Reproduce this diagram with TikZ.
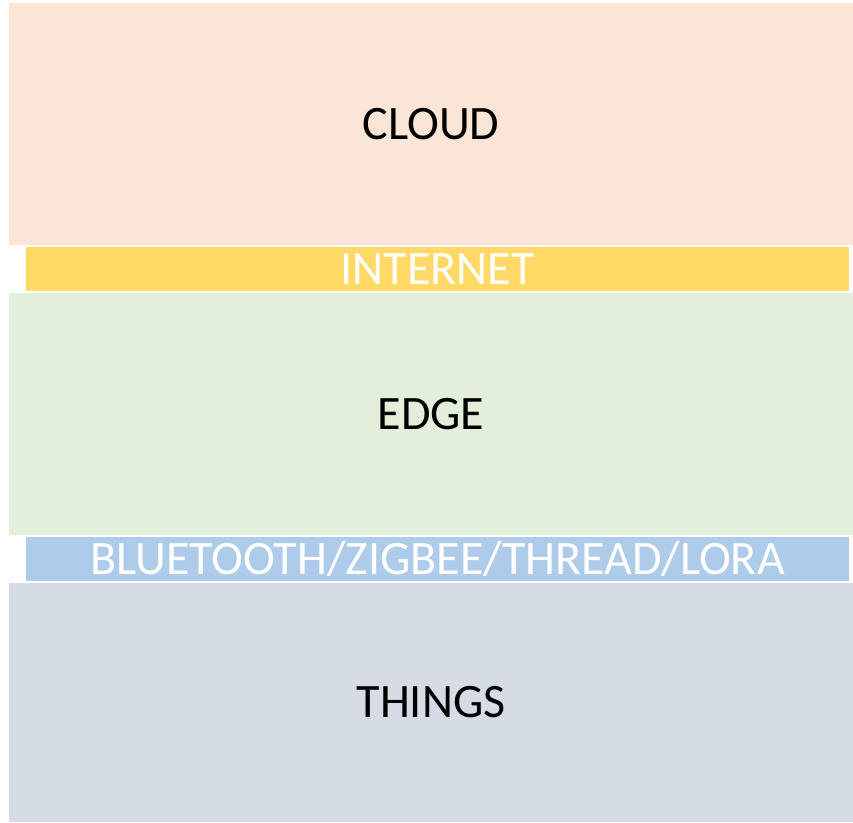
\documentclass[tikz,border=0pt]{standalone}
\usepackage{fontspec}
\setmainfont{Carlito}
\usetikzlibrary{positioning}

\definecolor{cloudfill}{HTML}{FBE5D6}
\definecolor{netfill}{HTML}{FFD966}
\definecolor{edgefill}{HTML}{E2EFDA}
\definecolor{radiofill}{HTML}{AECBEA}
\definecolor{thingsfill}{HTML}{D6DCE5}

\begin{document}
\begin{tikzpicture}[x=1pt, y=1pt,
        tier/.style={inner sep=0pt, outer sep=0pt, minimum width=844pt,
            minimum height=242pt, font=\fontsize{48}{56}\selectfont, text=black},
        band/.style={inner sep=0pt, outer sep=0pt, minimum width=823pt,
            minimum height=44pt, font=\fontsize{48}{56}\selectfont, text=white},
        node distance=2pt]
    \useasboundingbox (0,0) rectangle (853,-822);
    \node[tier, fill=cloudfill, anchor=north west] (cloud) at (9,-3) {CLOUD};
    \node[band, fill=netfill, below=of cloud, xshift=6.5pt] (internet) {INTERNET};
    \node[tier, fill=edgefill, below=of internet, xshift=-6.5pt] (edge) {EDGE};
    \node[band, fill=radiofill, below=of edge, xshift=6.5pt] (radio) {BLUETOOTH/ZIGBEE/THREAD/LORA};
    \node[tier, fill=thingsfill, below=of radio, xshift=-6.5pt, minimum height=239pt] (things) {THINGS};
\end{tikzpicture}
\end{document}
